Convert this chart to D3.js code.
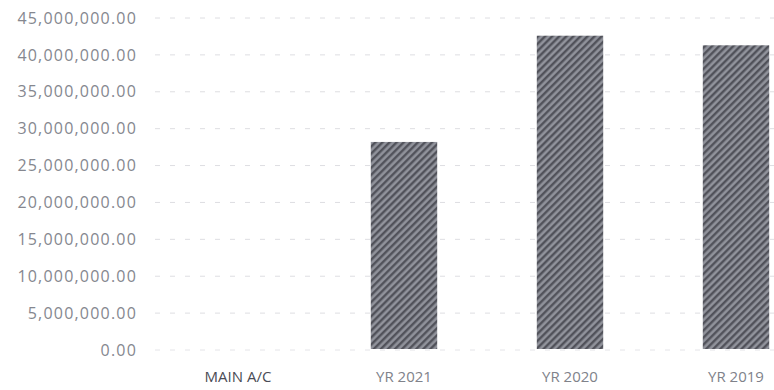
<!DOCTYPE html>
<html>
<head>
<meta charset="utf-8">
<script src="https://cdn.jsdelivr.net/npm/d3@7"></script>
<style>
  html, body { margin: 0; padding: 0; background: #fff; }
  svg { display: block; }
</style>
</head>
<body>
<svg id="chart" width="774" height="390"></svg>
<script>
// Account balances by period
const categories = ["MAIN A/C", "YR 2021", "YR 2020", "YR 2019"];
const balances = [0, 28200000, 42600000, 41300000];
const yTicks = [0, 5000000, 10000000, 15000000, 20000000, 25000000, 30000000, 35000000, 40000000, 45000000];

const svg = d3.select("#chart");
const W = 774, H = 390;

const x = d3.scaleBand()
  .domain(categories)
  .range([155, 819])
  .paddingInner(0.6)
  .paddingOuter(0.3);

const y = d3.scaleLinear()
  .domain([0, 45000000])
  .range([350, 18]);

// Diagonal hatch fill for the bars (lines rising to the right)
const defs = svg.append("defs");
const pat = defs.append("pattern")
  .attr("id", "hatch")
  .attr("patternUnits", "userSpaceOnUse")
  .attr("width", 5).attr("height", 5)
  .attr("patternTransform", "rotate(45)");
pat.append("rect").attr("width", 5).attr("height", 5).attr("fill", "#82848d");
pat.append("rect").attr("x", 0).attr("width", 2.2).attr("height", 5).attr("fill", "#51525a");
pat.append("rect").attr("x", 3.4).attr("width", 0.9).attr("height", 5).attr("fill", "#a0a2aa");

// Gridlines
const grid = svg.append("g").attr("class", "grid");
grid.selectAll("line")
  .data(yTicks.filter(d => d > 0))
  .join("line")
  .attr("x1", 155).attr("x2", W)
  .attr("y1", d => y(d)).attr("y2", d => y(d))
  .attr("stroke", "#dedee2")
  .attr("stroke-width", 1)
  .attr("stroke-dasharray", "5,10");

// Y axis labels
const yAxis = d3.axisLeft(y)
  .tickValues(yTicks)
  .tickSize(0)
  .tickPadding(0)
  .tickFormat(d3.format(",.2f"));
const gy = svg.append("g")
  .attr("transform", "translate(137,0)")
  .call(yAxis);
gy.select(".domain").remove();
gy.selectAll("text")
  .attr("fill", "#85878f")
  .style("font-family", "'Open Sans', sans-serif")
  .style("font-size", "16px")
  .style("letter-spacing", "1.2px");

// Bars
svg.append("g").selectAll("rect")
  .data(categories.map((c, i) => ({ c, v: balances[i] })))
  .join("rect")
  .attr("x", d => x(d.c))
  .attr("width", x.bandwidth())
  .attr("y", d => y(d.v))
  .attr("height", d => y(0) - y(d.v) - 1)
  .attr("fill", "url(#hatch)");

// Baseline
svg.append("line")
  .attr("x1", 155).attr("x2", W)
  .attr("y1", y(0)).attr("y2", y(0))
  .attr("stroke", "#e4e4e8")
  .attr("stroke-dasharray", "5,10");

// Category axis
const xAxis = d3.axisBottom(x).tickSize(0).tickPadding(0);
const gx = svg.append("g")
  .attr("transform", "translate(0,371)")
  .call(xAxis);
gx.select(".domain").remove();
gx.selectAll("text")
  .attr("fill", (d, i) => i === 0 ? "#4a4c55" : "#80828a")
  .style("font-family", "'Open Sans', sans-serif")
  .style("font-size", "15px");
</script>
</body>
</html>
